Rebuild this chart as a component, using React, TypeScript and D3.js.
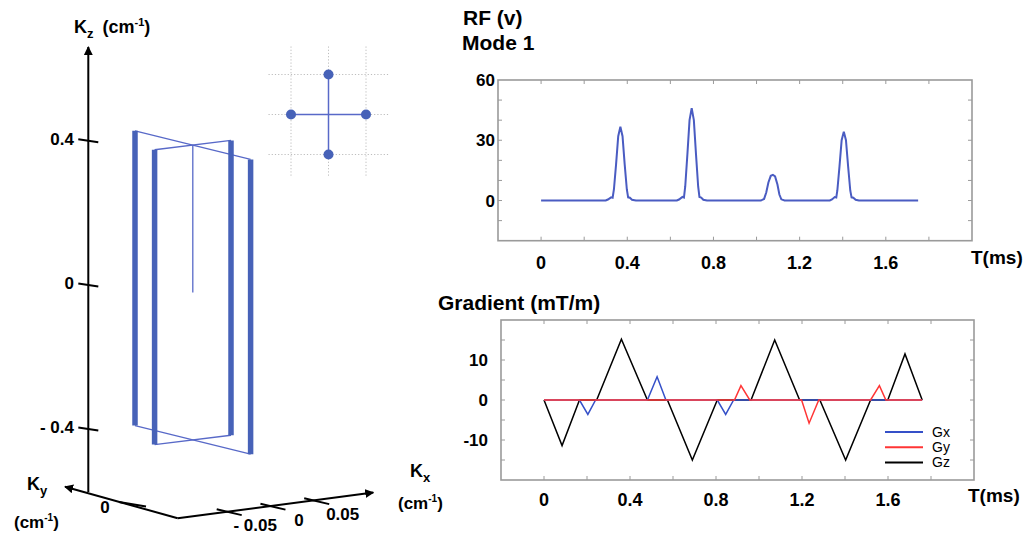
import React from "react";
import * as d3 from "d3";

// ---- data ----
// RF pulses (t in ms, amplitude in v)
const rfPoints: [number, number][] = [
  [0, 0], [0.3, 0],
  [0.31, 0.5], [0.325, 1.6], [0.332, 1.4], [0.338, 5.5], [0.348, 18], [0.358, 32], [0.368, 36.7],
  [0.378, 32], [0.388, 18], [0.398, 5.5], [0.404, 1.6], [0.412, 1.4], [0.422, 0.4], [0.44, 0],
  [0.63, 0], [0.64, 0.5], [0.656, 1.8], [0.663, 1.5], [0.669, 7], [0.679, 23], [0.689, 40], [0.699, 46],
  [0.709, 40], [0.719, 23], [0.729, 7], [0.735, 1.8], [0.743, 1.5], [0.753, 0.4], [0.77, 0],
  [1.02, 0], [1.035, 0.8], [1.045, 4], [1.055, 9], [1.066, 12.3], [1.076, 12.8], [1.086, 12],
  [1.097, 8], [1.106, 3], [1.115, 0.6], [1.13, 0],
  [1.34, 0], [1.35, 0.5], [1.363, 1.7], [1.37, 1.5], [1.375, 5], [1.385, 17], [1.395, 30], [1.405, 34.3],
  [1.415, 30], [1.425, 17], [1.435, 5], [1.441, 1.6], [1.449, 1.4], [1.46, 0.4], [1.475, 0],
  [1.75, 0],
];

// gradients (t in ms, mT/m)
const gzPoints: [number, number][] = [
  [0, 0], [0.084, -11.4], [0.165, 0], [0.245, 0], [0.36, 15.2], [0.481, 0], [0.574, 0], [0.69, -15],
  [0.806, 0], [0.963, 0], [1.073, 15], [1.189, 0], [1.283, 0], [1.403, -15], [1.519, 0], [1.599, 0],
  [1.679, 11.5], [1.759, 0],
];
const gxPoints: [number, number][] = [
  [0, 0], [0.165, 0], [0.204, -3.6], [0.24, 0], [0.481, 0], [0.526, 5.8], [0.567, 0],
  [0.806, 0], [0.845, -3.6], [0.882, 0], [1.759, 0],
];
const gyPoints: [number, number][] = [
  [0, 0], [0.886, 0], [0.916, 3.6], [0.957, 0], [1.198, 0], [1.233, -5.8], [1.278, 0],
  [1.519, 0], [1.56, 3.6], [1.59, 0], [1.759, 0],
];
const gradSeries = [
  { name: "Gz", points: gzPoints, color: "#000000" },
  { name: "Gx", points: gxPoints, color: "#3550c8" },
  { name: "Gy", points: gyPoints, color: "#ff3535" },
];
const legendOrder = ["Gx", "Gy", "Gz"];

const timeLabels = [0, 0.4, 0.8, 1.2, 1.6];
const rfLabels = [0, 30, 60];
const gradLabels = [-10, 0, 10];

// k-space trajectory (cm^-1)
const kCorners = [
  { kx: 0, ky: 0.04 },
  { kx: -0.04, ky: 0 },
  { kx: 0.04, ky: 0 },
  { kx: 0, ky: -0.04 },
];
const kzTop = 0.41;
const kzBottom = -0.41;
const kzTicks = [-0.4, 0, 0.4];
const kxTicks = [-0.05, 0, 0.05];

// inset grid (phase-encode positions)
const insetPoints: [number, number][] = [[0, 1], [-1, 0], [1, 0], [0, -1]];
const insetGrid = [-1, 0, 1];

const BLUE = "#4762b8";
const THIN = "#5869c8";
const FRAME = "#9a9a9a";
const FONT = "'Liberation Sans', Arial, Helvetica, sans-serif";

const fmt = (v: number) => (v < 0 ? `- ${Math.abs(v)}` : `${v}`);

function Frame({ x, y, yTicks }: { x: d3.ScaleLinear<number, number>; y: d3.ScaleLinear<number, number>; yTicks: number[] }) {
  const [x0, x1] = x.range();
  const [y1, y0] = y.range();
  const xt = x.ticks(11).filter((t) => t >= -1e-9 && t <= 1.81);
  return (
    <g>
      <rect x={x0} y={y0} width={x1 - x0} height={y1 - y0} fill="none" stroke={FRAME} strokeWidth={1.6} />
      {xt.map((t) => (
        <g key={"x" + t} stroke={FRAME} strokeWidth={1}>
          <line x1={x(t)} x2={x(t)} y1={y1} y2={y1 - 4} />
          <line x1={x(t)} x2={x(t)} y1={y0} y2={y0 + 4} />
        </g>
      ))}
      {yTicks.map((t) => (
        <g key={"y" + t} stroke={FRAME} strokeWidth={1}>
          <line x1={x0} x2={x0 + 4} y1={y(t)} y2={y(t)} />
          <line x1={x1} x2={x1 - 4} y1={y(t)} y2={y(t)} />
        </g>
      ))}
    </g>
  );
}

export default function App() {
  // RF panel
  const rfX = d3.scaleLinear([-0.2, 2.0], [498, 972]);
  const rfY = d3.scaleLinear([-20, 60], [240.7, 80]);
  const rfLine = d3.line<[number, number]>().x((d) => rfX(d[0])).y((d) => rfY(d[1]));

  // gradient panel
  const gX = d3.scaleLinear([-0.2, 2.0], [501, 974]);
  const gY = d3.scaleLinear([-20, 20], [480, 320]);
  const gLine = d3.line<[number, number]>().x((d) => gX(d[0])).y((d) => gY(d[1]));

  // 3D projection of the k-space trajectory
  const origin = [192.8, 292.5];
  const kxDx = d3.scaleLinear([-0.04, 0.04], [-38.2, 38.2]);
  const kxDy = d3.scaleLinear([-0.04, 0.04], [4.65, -4.65]);
  const kyDx = d3.scaleLinear([-0.04, 0.04], [57.8, -57.8]);
  const kyDy = d3.scaleLinear([-0.04, 0.04], [14.3, -14.3]);
  const kzDy = d3.scaleLinear([-0.41, 0.41], [147.4, -147.4]);
  const proj = (kx: number, ky: number, kz: number): [number, number] => [
    origin[0] + kxDx(kx) + kyDx(ky),
    origin[1] + kxDy(kx) + kyDy(ky) + kzDy(kz),
  ];

  // 3D axes
  const kzAxisX = 88.3;
  const kzAxis = d3.scaleLinear([-0.4, 0.4], [429, 140.8]);
  const kxAxisX = d3.scaleLinear([-0.05, 0.05], [229.2, 316.7]);
  const kxAxisY = d3.scaleLinear([-0.05, 0.05], [512.2, 501.2]);
  const corner = [177.7, 518.3];
  const kyTip = [65, 486.7];
  const kxTip = [373.3, 492.5];

  // inset scales
  const inX = d3.scaleLinear([-1, 1], [291, 366]);
  const inY = d3.scaleLinear([-1, 1], [154.5, 74.5]);

  const bold = { fontFamily: FONT, fontWeight: 700 } as const;

  const pairs: [number, number][] = [[0, 3], [1, 2]];

  return (
    <div style={{ position: "absolute", left: 0, top: 0 }}>
      <svg width={1034} height={538} style={{ display: "block", background: "#fff" }}>
        <defs>
          <marker id="arr" viewBox="0 0 10 10" refX="9" refY="5" markerWidth="9" markerHeight="9" markerUnits="userSpaceOnUse" orient="auto">
            <path d="M0,0 L10,5 L0,10 Z" fill="#000" />
          </marker>
        </defs>

        {/* ---------- k-space 3D plot ---------- */}
        <g stroke="#000" strokeWidth={2} fill="none">
          <line x1={kzAxisX} y1={492} x2={kzAxisX} y2={47} markerEnd="url(#arr)" />
          <line x1={corner[0]} y1={corner[1]} x2={kyTip[0]} y2={kyTip[1]} markerEnd="url(#arr)" />
          <line x1={corner[0]} y1={corner[1]} x2={kxTip[0]} y2={kxTip[1]} markerEnd="url(#arr)" />
          {kzTicks.map((t) => (
            <line key={t} x1={kzAxisX - 10} y1={kzAxis(t) - 1.5} x2={kzAxisX + 10} y2={kzAxis(t) + 1.5} />
          ))}
          {kxTicks.map((t) => (
            <line key={t} x1={kxAxisX(t) - 12.5} y1={kxAxisY(t) - 2.9} x2={kxAxisX(t) + 12.5} y2={kxAxisY(t) + 2.9} />
          ))}
          <line x1={119} y1={502} x2={146} y2={506.5} />
        </g>
        <g {...bold} fontSize={17} fill="#000">
          {kzTicks.map((t) => (
            <text key={t} x={74} y={kzAxis(t) + 4} textAnchor="end">{fmt(t)}</text>
          ))}
          {kxTicks.map((t) => (
            <text key={t} x={kxAxisX(t) + 26} y={kxAxisY(t) + 19} textAnchor="middle">{fmt(t)}</text>
          ))}
          <text x={105} y={513} textAnchor="middle">0</text>
        </g>
        {/* axis titles */}
        <g {...bold} fill="#000">
          <text x={74} y={33} fontSize={18}>
            K<tspan fontSize={13} dy={5}>z</tspan>
            <tspan fontSize={18} dx={9} dy={-5}>(cm</tspan>
            <tspan fontSize={11} dy={-7}>-1</tspan>
            <tspan fontSize={18} dy={7}>)</tspan>
          </text>
          <text x={27} y={490} fontSize={18}>
            K<tspan fontSize={13} dy={5}>y</tspan>
          </text>
          <text x={14} y={528} fontSize={17}>
            (cm<tspan fontSize={10} dy={-7}>-1</tspan><tspan dy={7}>)</tspan>
          </text>
          <text x={410} y={477} fontSize={18}>
            K<tspan fontSize={13} dy={5}>x</tspan>
          </text>
          <text x={398} y={509} fontSize={17}>
            (cm<tspan fontSize={10} dy={-7}>-1</tspan><tspan dy={7}>)</tspan>
          </text>
        </g>

        {/* trajectory */}
        <g stroke={THIN} strokeWidth={1.3} fill="none">
          {[kzTop, kzBottom].flatMap((kz) =>
            pairs.map(([a, b]) => {
              const p = proj(kCorners[a].kx, kCorners[a].ky, kz);
              const q = proj(kCorners[b].kx, kCorners[b].ky, kz);
              return <line key={`${kz}-${a}`} x1={p[0]} y1={p[1]} x2={q[0]} y2={q[1]} />;
            })
          )}
          {(() => {
            const p = proj(0, 0, 0);
            const q = proj(0, 0, kzTop);
            return <line x1={p[0]} y1={p[1]} x2={q[0]} y2={q[1]} />;
          })()}
        </g>
        <g stroke={BLUE} strokeWidth={5.5} fill="none">
          {kCorners.map((c, i) => {
            const p = proj(c.kx, c.ky, kzBottom);
            const q = proj(c.kx, c.ky, kzTop);
            return <line key={i} x1={p[0]} y1={p[1]} x2={q[0]} y2={q[1]} />;
          })}
        </g>

        {/* inset */}
        <g stroke="#bdbdbd" strokeWidth={1} strokeDasharray="1.2,2">
          {insetGrid.map((g) => (
            <line key={"v" + g} x1={inX(g)} x2={inX(g)} y1={inY(1.7)} y2={inY(-1.55)} />
          ))}
          {insetGrid.map((g) => (
            <line key={"h" + g} y1={inY(g)} y2={inY(g)} x1={inX(-1.6)} x2={inX(1.6)} />
          ))}
        </g>
        <g stroke={THIN} strokeWidth={1.5}>
          <line x1={inX(insetPoints[1][0])} y1={inY(insetPoints[1][1])} x2={inX(insetPoints[2][0])} y2={inY(insetPoints[2][1])} />
          <line x1={inX(insetPoints[0][0])} y1={inY(insetPoints[0][1])} x2={inX(insetPoints[3][0])} y2={inY(insetPoints[3][1])} />
        </g>
        {insetPoints.map((p, i) => (
          <circle key={i} cx={inX(p[0])} cy={inY(p[1])} r={5} fill={BLUE} />
        ))}

        {/* ---------- RF panel ---------- */}
        <g {...bold} fontSize={21} fill="#000">
          <text x={463} y={25}>RF (v)</text>
          <text x={462} y={50}>Mode 1</text>
        </g>
        <Frame x={rfX} y={rfY} yTicks={d3.range(-10, 60, 10)} />
        <path d={rfLine(rfPoints) ?? ""} fill="none" stroke="#4a5cc2" strokeWidth={2} />
        <g {...bold} fontSize={17} fill="#000">
          {rfLabels.map((v) => (
            <text key={v} x={495} y={rfY(v) + 6} textAnchor="end">{v}</text>
          ))}
        </g>
        <g {...bold} fontSize={18} fill="#000">
          {timeLabels.map((t) => (
            <text key={t} x={rfX(t)} y={269} textAnchor="middle">{t}</text>
          ))}
          <text x={971} y={264} fontSize={19}>T(ms)</text>
        </g>

        {/* ---------- Gradient panel ---------- */}
        <text {...bold} x={438} y={310} fontSize={21} fill="#000">Gradient (mT/m)</text>
        <Frame x={gX} y={gY} yTicks={d3.range(-15, 20, 5)} />
        {gradSeries.map((s) => (
          <path key={s.name} d={gLine(s.points) ?? ""} fill="none" stroke={s.color} strokeWidth={1.5} />
        ))}
        <g {...bold} fontSize={17} fill="#000">
          {gradLabels.map((v) => (
            <text key={v} x={488} y={gY(v) + 6} textAnchor="end">{v}</text>
          ))}
        </g>
        <g {...bold} fontSize={18} fill="#000">
          {timeLabels.map((t) => (
            <text key={t} x={gX(t)} y={506} textAnchor="middle">{t}</text>
          ))}
          <text x={968} y={502} fontSize={19}>T(ms)</text>
        </g>
        {/* legend */}
        {legendOrder.map((name, i) => {
          const s = gradSeries.find((d) => d.name === name)!;
          const ly = 432 + i * 15.2;
          return (
            <g key={name}>
              <line x1={885} x2={923} y1={ly} y2={ly} stroke={s.color} strokeWidth={2} />
              <text x={932} y={ly + 5} fontFamily={FONT} fontSize={14} fill="#000">{name}</text>
            </g>
          );
        })}
      </svg>
    </div>
  );
}
